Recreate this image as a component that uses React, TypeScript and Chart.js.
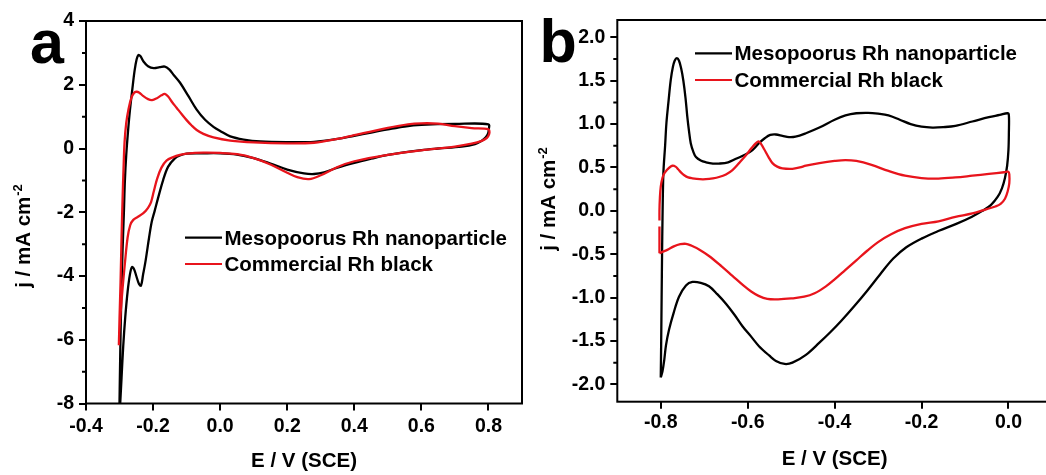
import React, { useEffect, useRef } from "react";
import { Chart, registerables } from "chart.js";

Chart.register(...registerables);

const FONT = '"Liberation Sans", Arial, Helvetica, sans-serif';
const BLACK = "#000000";
const RED = "#e8141c";

const LEGEND_LABELS = ["Mesopoorus Rh nanoparticle", "Commercial Rh black"];
const X_TITLE = "E / V (SCE)";
const Y_TITLE = "j / mA cm";
const Y_TITLE_SUP = "-2";

// ---------- Panel a ----------
const A_X_TICKS = [-0.4, -0.2, 0.0, 0.2, 0.4, 0.6, 0.8];
const A_Y_TICKS = [-8, -6, -4, -2, 0, 2, 4];
const A_Y_MINOR = [-7, -5, -3, -1, 1, 3];

const A_MESO: [number, number][] = [
  [-0.301, -8.6], [-0.298, -6.5], [-0.295, -4.8], [-0.291, -3.2], [-0.287, -2.0], [-0.284, -1.0],
  [-0.28, -0.2], [-0.275, 0.5], [-0.269, 1.2], [-0.262, 1.85], [-0.255, 2.45], [-0.249, 2.8],
  [-0.244, 2.93], [-0.238, 2.9], [-0.228, 2.72], [-0.215, 2.58], [-0.198, 2.52], [-0.18, 2.55],
  [-0.165, 2.57], [-0.152, 2.48], [-0.138, 2.3], [-0.12, 2.07], [-0.095, 1.65], [-0.07, 1.22],
  [-0.045, 0.9], [-0.02, 0.68], [0.0, 0.55], [0.03, 0.38], [0.07, 0.28], [0.12, 0.22],
  [0.2, 0.2], [0.28, 0.21], [0.35, 0.3], [0.4, 0.4], [0.45, 0.5], [0.5, 0.6], [0.55, 0.69],
  [0.6, 0.74], [0.7, 0.77], [0.8, 0.76], [0.801, 0.6], [0.799, 0.47], [0.792, 0.35],
  [0.78, 0.24], [0.76, 0.14], [0.72, 0.06], [0.65, 0.0], [0.6, -0.05], [0.5, -0.2],
  [0.45, -0.32], [0.4, -0.45], [0.35, -0.6], [0.31, -0.75], [0.28, -0.8], [0.25, -0.78],
  [0.2, -0.66], [0.15, -0.47], [0.1, -0.3], [0.05, -0.19], [0.0, -0.15], [-0.05, -0.15],
  [-0.1, -0.16], [-0.12, -0.22], [-0.135, -0.31], [-0.155, -0.57], [-0.17, -0.99],
  [-0.185, -1.55], [-0.195, -1.95], [-0.204, -2.3], [-0.212, -2.8], [-0.222, -3.5],
  [-0.23, -3.97], [-0.236, -4.3], [-0.242, -4.25], [-0.25, -4.0], [-0.257, -3.78],
  [-0.263, -3.72], [-0.269, -3.95], [-0.276, -4.5], [-0.283, -5.3], [-0.289, -6.2],
  [-0.294, -7.2], [-0.298, -8.0], [-0.301, -8.6],
];

const A_COMM: [number, number][] = [
  [-0.302, -6.17], [-0.3, -5.3], [-0.297, -4.2], [-0.294, -2.8], [-0.291, -1.6], [-0.288, -0.6],
  [-0.285, 0.2], [-0.28, 0.8], [-0.273, 1.25], [-0.265, 1.58], [-0.257, 1.74], [-0.25, 1.78],
  [-0.242, 1.76], [-0.23, 1.65], [-0.215, 1.55], [-0.203, 1.52], [-0.19, 1.57], [-0.175, 1.67],
  [-0.165, 1.71], [-0.155, 1.63], [-0.143, 1.45], [-0.13, 1.28], [-0.115, 1.08], [-0.1, 0.89],
  [-0.085, 0.72], [-0.07, 0.58], [-0.05, 0.46], [-0.02, 0.35], [0.03, 0.25], [0.1, 0.19],
  [0.2, 0.16], [0.28, 0.18], [0.35, 0.3], [0.4, 0.42], [0.5, 0.65], [0.56, 0.76], [0.6, 0.79],
  [0.65, 0.78], [0.7, 0.7], [0.75, 0.64], [0.8, 0.6], [0.803, 0.5], [0.8, 0.4], [0.795, 0.33],
  [0.78, 0.24], [0.75, 0.15], [0.7, 0.06], [0.6, -0.06], [0.5, -0.2], [0.4, -0.4],
  [0.35, -0.58], [0.3, -0.84], [0.265, -0.96], [0.23, -0.9], [0.2, -0.76], [0.15, -0.5],
  [0.1, -0.3], [0.05, -0.18], [0.0, -0.14], [-0.05, -0.13], [-0.1, -0.16], [-0.12, -0.2],
  [-0.14, -0.27], [-0.16, -0.38], [-0.175, -0.6], [-0.188, -0.95], [-0.198, -1.35],
  [-0.206, -1.68], [-0.215, -1.86], [-0.229, -2.03], [-0.245, -2.14], [-0.259, -2.24],
  [-0.268, -2.4], [-0.276, -2.8], [-0.284, -3.6], [-0.291, -4.4], [-0.297, -5.2],
  [-0.301, -5.8], [-0.302, -6.17],
];

// ---------- Panel b ----------
const B_X_TICKS = [-0.8, -0.6, -0.4, -0.2, 0.0];
const B_Y_TICKS = [-2.0, -1.5, -1.0, -0.5, 0.0, 0.5, 1.0, 1.5, 2.0];
const B_Y_MINOR = [-1.75, -1.25, -0.75, -0.25, 0.25, 0.75, 1.25, 1.75];

const B_MESO: [number, number][] = [
  [-0.8, -1.92], [-0.799, -1.5], [-0.798, -1.0], [-0.797, -0.5], [-0.796, -0.1], [-0.794, 0.43],
  [-0.79, 0.75], [-0.787, 1.01], [-0.782, 1.27], [-0.777, 1.51], [-0.772, 1.66], [-0.768, 1.73],
  [-0.763, 1.76], [-0.758, 1.73], [-0.753, 1.64], [-0.748, 1.5], [-0.743, 1.3], [-0.739, 1.09],
  [-0.735, 0.92], [-0.731, 0.78], [-0.725, 0.68], [-0.719, 0.62], [-0.708, 0.58], [-0.696, 0.56],
  [-0.68, 0.545], [-0.666, 0.545], [-0.645, 0.56], [-0.627, 0.6], [-0.605, 0.65], [-0.589, 0.7],
  [-0.574, 0.78], [-0.56, 0.84], [-0.548, 0.875], [-0.535, 0.88], [-0.52, 0.865], [-0.505, 0.85],
  [-0.49, 0.855], [-0.466, 0.895], [-0.435, 0.96], [-0.4, 1.05], [-0.375, 1.1], [-0.35, 1.125],
  [-0.323, 1.13], [-0.3, 1.12], [-0.276, 1.1], [-0.25, 1.05], [-0.225, 1.0], [-0.2, 0.97],
  [-0.175, 0.96], [-0.15, 0.965], [-0.122, 0.98], [-0.083, 1.03], [-0.045, 1.08], [-0.02, 1.105],
  [-0.002, 1.125], [0.001, 1.1], [0.001, 0.9], [0.0, 0.7], [-0.003, 0.52], [-0.008, 0.38],
  [-0.015, 0.26], [-0.025, 0.16], [-0.04, 0.07], [-0.06, 0.0], [-0.085, -0.07], [-0.12, -0.15],
  [-0.16, -0.23], [-0.2, -0.32], [-0.235, -0.42], [-0.265, -0.55], [-0.295, -0.73], [-0.325, -0.92],
  [-0.355, -1.1], [-0.385, -1.27], [-0.41, -1.4], [-0.435, -1.52], [-0.466, -1.66], [-0.497, -1.75],
  [-0.515, -1.765], [-0.535, -1.73], [-0.55, -1.67], [-0.574, -1.56], [-0.592, -1.45],
  [-0.612, -1.33], [-0.63, -1.2], [-0.65, -1.07], [-0.67, -0.96], [-0.689, -0.87], [-0.708, -0.83],
  [-0.727, -0.82], [-0.742, -0.86], [-0.758, -0.99], [-0.77, -1.17], [-0.781, -1.37],
  [-0.788, -1.55], [-0.792, -1.72], [-0.796, -1.85], [-0.8, -1.92],
];

const B_COMM: ([number, number] | null)[] = [
  [-0.803, -0.49], [-0.803, -0.35], [-0.803, -0.18], null, [-0.803, -0.11], [-0.803, 0.0],
  [-0.802, 0.15], [-0.8, 0.28], [-0.796, 0.38], [-0.792, 0.43], [-0.786, 0.47], [-0.78, 0.5],
  [-0.773, 0.52], [-0.766, 0.51], [-0.76, 0.48], [-0.753, 0.44], [-0.746, 0.41], [-0.737, 0.385],
  [-0.727, 0.375], [-0.71, 0.365], [-0.696, 0.365], [-0.68, 0.375], [-0.666, 0.39], [-0.65, 0.42],
  [-0.635, 0.47], [-0.62, 0.55], [-0.604, 0.64], [-0.59, 0.73], [-0.581, 0.78], [-0.575, 0.8],
  [-0.569, 0.77], [-0.562, 0.71], [-0.552, 0.62], [-0.543, 0.55], [-0.532, 0.51], [-0.52, 0.49],
  [-0.497, 0.485], [-0.48, 0.5], [-0.466, 0.52], [-0.435, 0.55], [-0.4, 0.575], [-0.375, 0.585],
  [-0.35, 0.575], [-0.315, 0.53], [-0.276, 0.46], [-0.238, 0.405], [-0.2, 0.378], [-0.161, 0.372],
  [-0.122, 0.385], [-0.083, 0.405], [-0.045, 0.425], [-0.01, 0.445], [0.0, 0.45], [0.002, 0.42],
  [0.002, 0.32], [-0.002, 0.22], [-0.008, 0.14], [-0.018, 0.08], [-0.03, 0.05], [-0.05, 0.02],
  [-0.083, -0.03], [-0.122, -0.07], [-0.161, -0.12], [-0.2, -0.15], [-0.238, -0.2], [-0.27, -0.27],
  [-0.3, -0.36], [-0.325, -0.46], [-0.35, -0.57], [-0.375, -0.68], [-0.4, -0.79],
  [-0.42, -0.87], [-0.446, -0.95], [-0.47, -0.99], [-0.5, -1.01], [-0.53, -1.02], [-0.555, -1.015],
  [-0.575, -0.98], [-0.592, -0.93], [-0.61, -0.86], [-0.635, -0.75], [-0.66, -0.64], [-0.689, -0.52],
  [-0.71, -0.45], [-0.73, -0.4], [-0.742, -0.38], [-0.755, -0.385], [-0.77, -0.41], [-0.785, -0.45],
  [-0.795, -0.47], [-0.803, -0.49],
];

type Pt = [number, number] | null;

interface PanelSpec {
  canvasLeft: number;
  canvasWidth: number;
  letter: string;
  letterX: number;
  letterY: number;
  xMin: number; xMax: number; yMin: number; yMax: number;
  xTicks: number[]; yTicks: number[]; yMinor: number[];
  xDec: number; yDec: number;
  top: number; yAxisW: number; padRight: number; xAxisH: number; xPad: number;
  legendX1: number; legendX2: number; legendTextX: number; legendRows: number[];
  yTitleX: number; yTitleCY: number; xTitleY: number;
  meso: Pt[]; comm: Pt[];
}

const PANEL_A: PanelSpec = {
  canvasLeft: 0, canvasWidth: 530, letter: "a", letterX: 30, letterY: 63,
  xMin: -0.4, xMax: 0.9, yMin: -8, yMax: 4,
  xTicks: A_X_TICKS, yTicks: A_Y_TICKS, yMinor: A_Y_MINOR, xDec: 1, yDec: 0,
  top: 21, yAxisW: 86, padRight: 8, xAxisH: 71.5, xPad: 4,
  legendX1: 185, legendX2: 222, legendTextX: 224.5, legendRows: [237.7, 264],
  yTitleX: 30, yTitleCY: 236, xTitleY: 467,
  meso: A_MESO, comm: A_COMM,
};

const PANEL_B: PanelSpec = {
  canvasLeft: 530, canvasWidth: 530, letter: "b", letterX: 9.5, letterY: 61.7,
  xMin: -0.9, xMax: 0.1, yMin: -2.2, yMax: 2.2,
  xTicks: B_X_TICKS, yTicks: B_Y_TICKS, yMinor: B_Y_MINOR, xDec: 1, yDec: 1,
  top: 20, yAxisW: 87.3, padRight: 8.1, xAxisH: 73.3, xPad: 2,
  legendX1: 165, legendX2: 202, legendTextX: 204.5, legendRows: [53.3, 80],
  yTitleX: 24.5, yTitleCY: 199, xTitleY: 465,
  meso: B_MESO, comm: B_COMM,
};

function toXY(pts: Pt[]) {
  return pts.map((p) => (p ? { x: p[0], y: p[1] } : { x: null, y: null }));
}

function decorPlugin(p: PanelSpec) {
  return {
    id: "decor" + p.letter,
    afterDraw(chart: any) {
      const ctx: CanvasRenderingContext2D = chart.ctx;
      const { left, right, top, bottom } = chart.chartArea;
      const yScale = chart.scales.y;
      ctx.save();
      // frame
      ctx.strokeStyle = "#000";
      ctx.lineWidth = 2;
      ctx.strokeRect(left, top, right - left, bottom - top);
      // minor ticks on y
      ctx.beginPath();
      for (const v of p.yMinor) {
        const py = yScale.getPixelForValue(v);
        ctx.moveTo(left - 4, py);
        ctx.lineTo(left, py);
      }
      ctx.stroke();
      ctx.fillStyle = "#000";
      // panel letter
      ctx.font = `bold 61px ${FONT}`;
      ctx.textAlign = "left";
      ctx.textBaseline = "alphabetic";
      ctx.fillText(p.letter, p.letterX, p.letterY);
      // legend
      const colors = [BLACK, RED];
      ctx.font = `bold 20.5px ${FONT}`;
      LEGEND_LABELS.forEach((lbl, i) => {
        const y = p.legendRows[i];
        ctx.strokeStyle = colors[i];
        ctx.lineWidth = 2.2;
        ctx.beginPath();
        ctx.moveTo(p.legendX1, y);
        ctx.lineTo(p.legendX2, y);
        ctx.stroke();
        ctx.fillStyle = "#000";
        ctx.fillText(lbl, p.legendTextX, y + 7);
      });
      // x title
      ctx.font = `bold 20.5px ${FONT}`;
      ctx.textAlign = "center";
      ctx.fillText(X_TITLE, (left + right) / 2, p.xTitleY);
      // y title (rotated) with superscript
      ctx.translate(p.yTitleX, p.yTitleCY);
      ctx.rotate(-Math.PI / 2);
      ctx.textAlign = "left";
      ctx.font = `bold 20.5px ${FONT}`;
      const w1 = ctx.measureText(Y_TITLE).width;
      ctx.font = `bold 13px ${FONT}`;
      const w2 = ctx.measureText(Y_TITLE_SUP).width;
      const start = -(w1 + w2 + 1) / 2;
      ctx.font = `bold 20.5px ${FONT}`;
      ctx.fillText(Y_TITLE, start, 0);
      ctx.font = `bold 13px ${FONT}`;
      ctx.fillText(Y_TITLE_SUP, start + w1 + 1, -8);
      ctx.restore();
    },
  };
}

function makeConfig(p: PanelSpec): any {
  const tickFont = { family: FONT, size: 19.5, weight: "bold" as const };
  const grid = {
    drawOnChartArea: false,
    drawTicks: true,
    tickLength: 7,
    tickWidth: 2,
    lineWidth: 2,
    tickColor: "#000",
    color: "#000",
  };
  return {
    type: "scatter",
    data: {
      datasets: [
        {
          label: LEGEND_LABELS[1],
          data: toXY(p.comm),
          borderColor: RED,
          backgroundColor: RED,
          borderWidth: 2.3,
          showLine: true,
          pointRadius: 0,
          tension: 0.35,
          fill: false,
          spanGaps: false,
          order: 0,
        },
        {
          label: LEGEND_LABELS[0],
          data: toXY(p.meso),
          borderColor: BLACK,
          backgroundColor: BLACK,
          borderWidth: 2.3,
          showLine: true,
          pointRadius: 0,
          tension: 0.35,
          fill: false,
          order: 1,
        },
      ],
    },
    options: {
      animation: false,
      responsive: false,
      devicePixelRatio: 1,
      events: [],
      layout: { padding: { left: 0, top: p.top, right: p.padRight, bottom: 0 } },
      plugins: { legend: { display: false }, tooltip: { enabled: false }, title: { display: false } },
      scales: {
        x: {
          type: "linear",
          position: "bottom",
          min: p.xMin,
          max: p.xMax,
          afterBuildTicks: (ax: any) => {
            ax.ticks = p.xTicks.map((v) => ({ value: v }));
          },
          afterFit: (ax: any) => {
            ax.height = p.xAxisH;
          },
          ticks: {
            font: tickFont,
            color: "#000",
            padding: p.xPad,
            maxRotation: 0,
            autoSkip: false,
            callback: (v: any) => Number(v).toFixed(p.xDec),
          },
          grid,
          border: { display: false },
        },
        y: {
          type: "linear",
          position: "left",
          min: p.yMin,
          max: p.yMax,
          afterBuildTicks: (ax: any) => {
            ax.ticks = p.yTicks.map((v) => ({ value: v }));
          },
          afterFit: (ax: any) => {
            ax.width = p.yAxisW;
          },
          ticks: {
            font: tickFont,
            color: "#000",
            padding: 5,
            autoSkip: false,
            callback: (v: any) => Number(v).toFixed(p.yDec),
          },
          grid,
          border: { display: false },
        },
      },
    },
    plugins: [decorPlugin(p)],
  };
}

function Panel({ spec }: { spec: PanelSpec }) {
  const ref = useRef<HTMLCanvasElement>(null);
  useEffect(() => {
    if (!ref.current) return;
    const chart = new Chart(ref.current, makeConfig(spec));
    return () => chart.destroy();
  }, [spec]);
  return (
    <canvas
      ref={ref}
      width={spec.canvasWidth}
      height={475}
      style={{
        position: "absolute",
        left: spec.canvasLeft,
        top: 0,
        width: spec.canvasWidth,
        height: 475,
        display: "block",
      }}
    />
  );
}

export default function App() {
  return (
    <div
      style={{
        position: "absolute",
        left: 0,
        top: 0,
        width: 1046,
        height: 475,
        overflow: "hidden",
        background: "#ffffff",
      }}
    >
      <Panel spec={PANEL_A} />
      <Panel spec={PANEL_B} />
    </div>
  );
}
